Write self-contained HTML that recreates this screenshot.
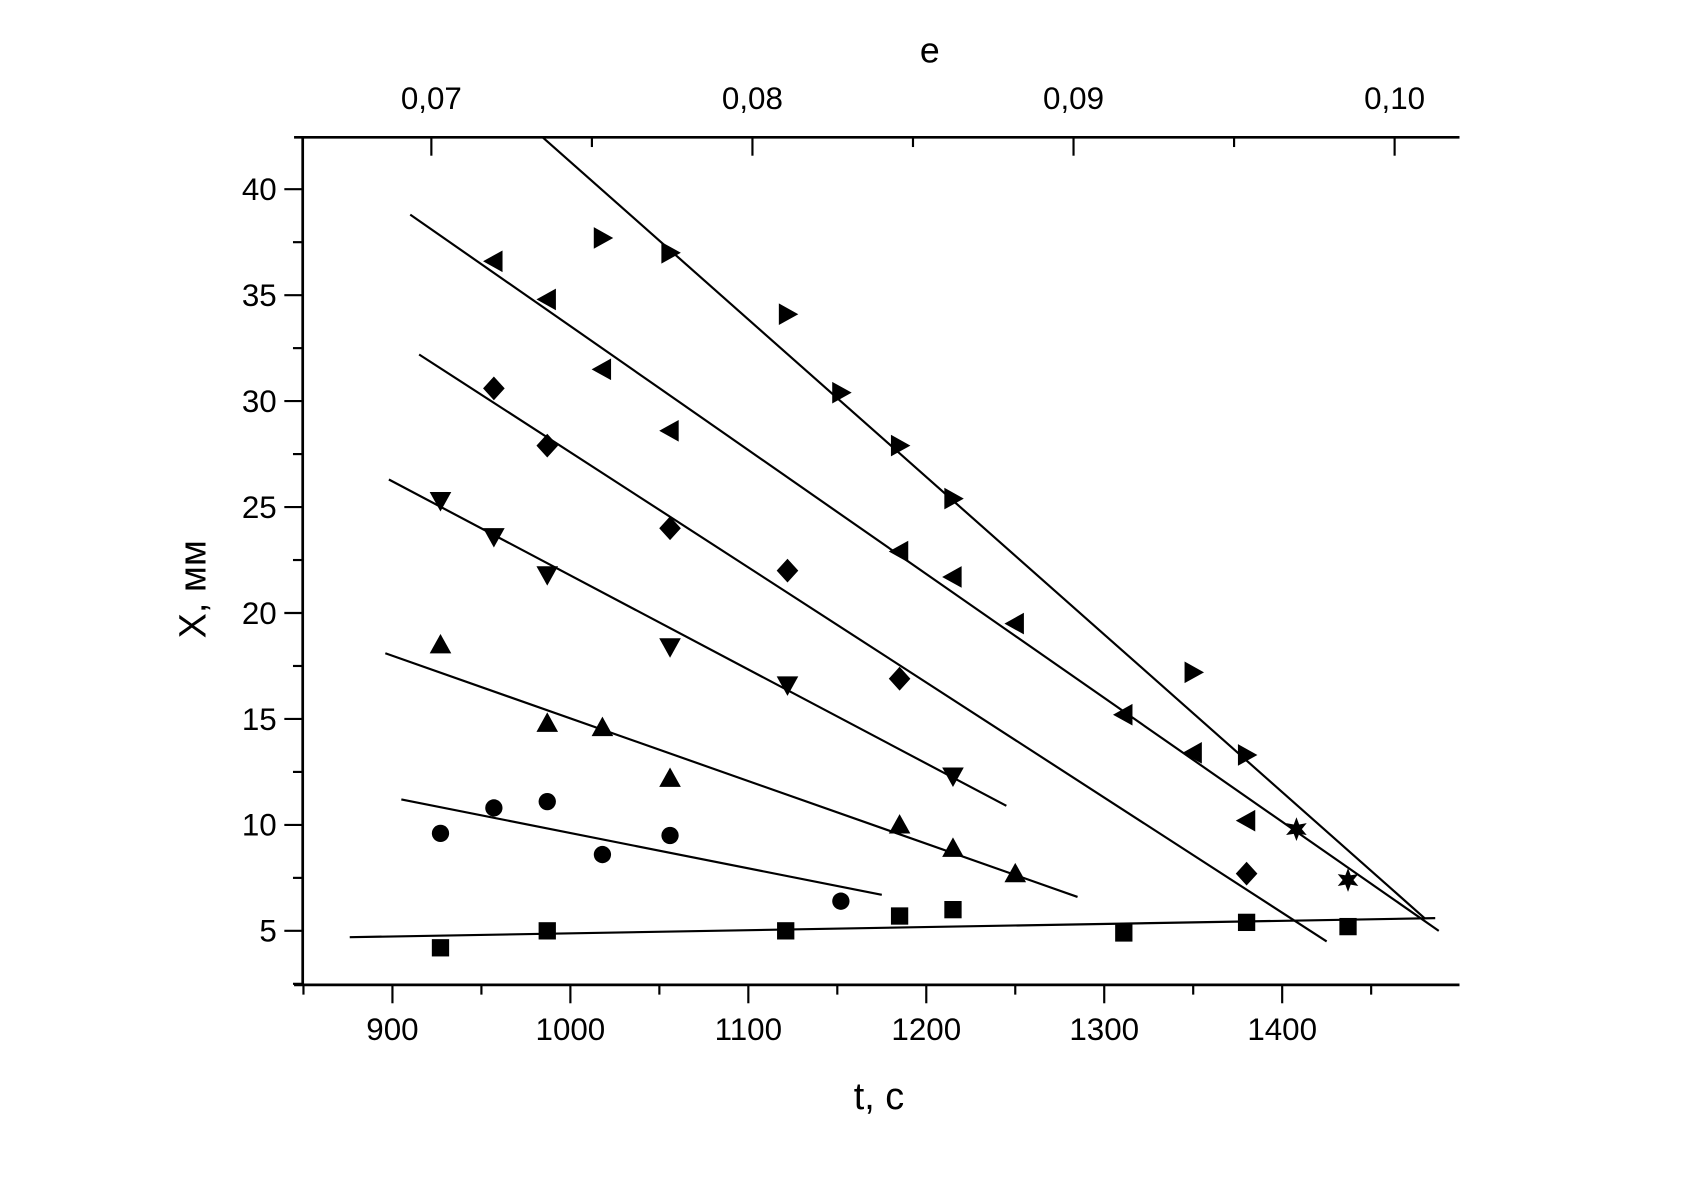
<!DOCTYPE html>
<html><head><meta charset="utf-8"><style>
html,body{margin:0;padding:0;background:#fff}
svg{display:block}
text{font-family:"Liberation Sans",sans-serif;fill:#000}
</style></head><body>
<svg id="chart" width="1693" height="1178" viewBox="0 0 1566 1089.6" xmlns="http://www.w3.org/2000/svg">
<rect width="1566" height="1089.6" fill="#fff"/>
<g id="axes"></g>
<g id="fits"></g>
<g id="marks"></g>
<text x="860" y="58" font-size="33" text-anchor="middle">e</text>
<text x="813" y="1026" font-size="35" text-anchor="middle">t, c</text>
<text x="0" y="0" font-size="35" text-anchor="middle" transform="translate(190,545) rotate(-90)">X, мм</text>
</svg>
<script>
const xTicks=[900,1000,1100,1200,1300,1400];
const yTicks=[5,10,15,20,25,30,35,40];
const eTicks=[0.07,0.08,0.09,0.10];
const eLabels=["0,07","0,08","0,09","0,10"];
const sqT=[927,987,1121,1185,1215,1311,1380,1437];
const sqX=[4.2,5.0,5.0,5.7,6.0,4.9,5.4,5.2];
const ciT=[927,957,987,1018,1056,1152];
const ciX=[9.6,10.8,11.1,8.6,9.5,6.4];
const upT=[927,987,1018,1056,1185,1215,1250];
const upX=[18.5,14.8,14.6,12.2,10.0,8.9,7.7];
const dnT=[927,957,987,1056,1122,1215];
const dnX=[25.3,23.6,21.8,18.4,16.6,12.3];
const diT=[957,987,1056,1122,1185,1380];
const diX=[30.6,27.9,24.0,22.0,16.9,7.7];
const ltT=[957,987,1018,1056,1185,1215,1250,1311,1350,1380];
const ltX=[36.6,34.8,31.5,28.6,22.9,21.7,19.5,15.2,13.4,10.2];
const rtT=[1018,1056,1122,1152,1185,1215,1350,1380];
const rtX=[37.7,37.0,34.1,30.4,27.9,25.4,17.2,13.3];
const stT=[1408,1437];
const stX=[9.8,7.4];
const fitSq=[876,4.7,1486,5.6];
const fitCi=[905,11.2,1175,6.7];
const fitUp=[896,18.1,1285,6.6];
const fitDn=[898,26.3,1245,10.9];
const fitDi=[915,32.2,1425,4.5];
const fitLt=[910,38.8,1488,5.0];
const fitRt=[984.4,42.45,1480,5.6];

const L=280,R=1350,T=127,B=911;
const X=t=>363+(t-900)*1.646;
const Y=v=>861-(v-5)*19.6;
const E=e=>399+(e-0.07)*29700;
const NS="http://www.w3.org/2000/svg";
function mk(tag,attrs,parent){const el=document.createElementNS(NS,tag);for(const k in attrs)el.setAttribute(k,attrs[k]);parent.appendChild(el);return el;}
const axes=document.getElementById('axes');
let ln;
ln=mk('line',{x1:L,y1:T,x2:L,y2:B,stroke:'#000','stroke-width':2.5},axes);


ln=mk('line',{x1:L-8,y1:B,x2:R,y2:B,stroke:'#000','stroke-width':2.5},axes);


ln=mk('line',{x1:L-8,y1:T,x2:R,y2:T,stroke:'#000','stroke-width':2.5},axes);


for(let t=850;t<=1500;t+=50){const px=X(t);if(px<L-1||px>R)continue;const major=t%100===0;
 mk('line',{x1:px,y1:B,x2:px,y2:B+(major?17:9),stroke:'#000','stroke-width':2},axes);}
xTicks.forEach(t=>{const tx=mk('text',{x:X(t),y:B+51,'font-size':29,'text-anchor':'middle'},axes);tx.textContent=t;
 
 });
for(let v=2.5;v<=42.5;v+=2.5){const py=Y(v);if(py<T||py>B)continue;const major=v%5===0;
 mk('line',{x1:L,y1:py,x2:L-(major?17:9),y2:py,stroke:'#000','stroke-width':2},axes);}
yTicks.forEach(v=>{const tx=mk('text',{x:L-24,y:Y(v)+10,'font-size':29,'text-anchor':'end'},axes);tx.textContent=v;
 
 });
for(let i=0;i<8;i++){const e=0.065+i*0.005;const px=E(e);if(px<L||px>R)continue;const major=i%2===1;
 mk('line',{x1:px,y1:T,x2:px,y2:T+(major?17:9),stroke:'#000','stroke-width':2},axes);}
eTicks.forEach((e,i)=>{const tx=mk('text',{x:E(e),y:T-26,'font-size':29,'text-anchor':'middle'},axes);tx.textContent=eLabels[i];
 
 });
const fits=document.getElementById('fits');
[['fit-squares',fitSq],['fit-circles',fitCi],['fit-up-triangles',fitUp],['fit-down-triangles',fitDn],['fit-diamonds',fitDi],['fit-left-triangles',fitLt],['fit-right-triangles',fitRt]].forEach(([n,f])=>{
 const l=mk('line',{x1:X(f[0]),y1:Y(f[1]),x2:X(f[2]),y2:Y(f[3]),stroke:'#000','stroke-width':2},fits);
 
 });
const marks=document.getElementById('marks');
const s=9;
function shape(type,cx,cy){
 switch(type){
 case 'sq':return mk('rect',{x:cx-s+1,y:cy-s+1,width:2*s-2,height:2*s-2},marks);
 case 'ci':return mk('circle',{cx:cx,cy:cy,r:s-1},marks);
 case 'up':return mk('polygon',{points:`${cx},${cy-s-1} ${cx+s+1},${cy+s-1} ${cx-s-1},${cy+s-1}`},marks);
 case 'dn':return mk('polygon',{points:`${cx},${cy+s+1} ${cx+s+1},${cy-s+1} ${cx-s-1},${cy-s+1}`},marks);
 case 'di':return mk('polygon',{points:`${cx},${cy-s-2} ${cx+s+1},${cy} ${cx},${cy+s+2} ${cx-s-1},${cy}`},marks);
 case 'lt':return mk('polygon',{points:`${cx-s-1},${cy} ${cx+s-1},${cy-s-1} ${cx+s-1},${cy+s+1}`},marks);
 case 'rt':return mk('polygon',{points:`${cx+s+1},${cy} ${cx-s+1},${cy-s-1} ${cx-s+1},${cy+s+1}`},marks);
 case 'st':{let p=[];for(let i=0;i<12;i++){const r=i%2?5:s+2;const a=-Math.PI/2+i*Math.PI/6;p.push((cx+r*Math.cos(a)).toFixed(1)+','+(cy+r*Math.sin(a)).toFixed(1));}
  return mk('polygon',{points:p.join(' ')},marks);}
 }
}
[['sq',sqT,sqX,'square-point'],['ci',ciT,ciX,'circle-point'],['up',upT,upX,'up-triangle-point'],['dn',dnT,dnX,'down-triangle-point'],['di',diT,diX,'diamond-point'],['lt',ltT,ltX,'left-triangle-point'],['rt',rtT,rtX,'right-triangle-point'],['st',stT,stX,'star-point']].forEach(([ty,ts,xs,n])=>{
 ts.forEach((t,i)=>{const el=shape(ty,X(t),Y(xs[i]));el.setAttribute('fill','#000');
  
  });
});
</script>
</body></html>
